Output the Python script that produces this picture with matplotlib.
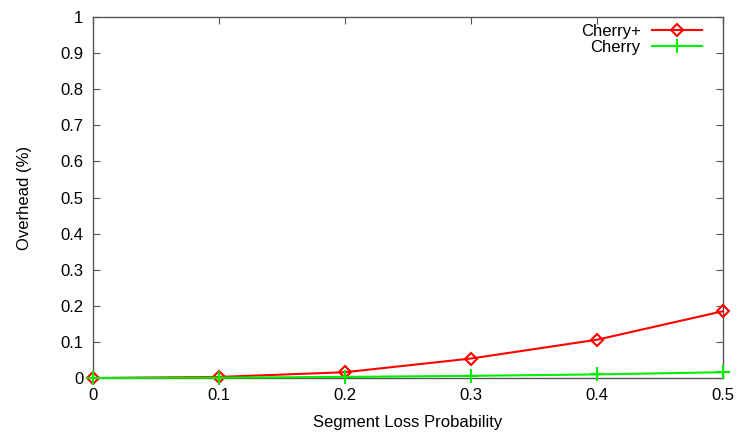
import matplotlib.pyplot as plt

plt.rcParams["font.family"] = ["Liberation Sans", "DejaVu Sans"]

loss_prob = [0.0, 0.1, 0.2, 0.3, 0.4, 0.5]
cherry_plus = [0.0, 0.003, 0.016, 0.054, 0.106, 0.185]
cherry = [0.0, 0.001, 0.003, 0.006, 0.010, 0.016]

x_ticks = [0, 0.1, 0.2, 0.3, 0.4, 0.5]
x_labels = ["0", "0.1", "0.2", "0.3", "0.4", "0.5"]
y_ticks = [0, 0.1, 0.2, 0.3, 0.4, 0.5, 0.6, 0.7, 0.8, 0.9, 1]
y_labels = ["0", "0.1", "0.2", "0.3", "0.4", "0.5", "0.6", "0.7", "0.8", "0.9", "1"]

fig = plt.figure(figsize=(7.43, 4.33), dpi=100)
ax = fig.add_axes([0.1252, 0.127, 0.8478, 0.8337])

ax.plot(loss_prob, cherry_plus, color="#ff0000", lw=1.5, marker="D",
        markersize=6, markerfacecolor="none", markeredgewidth=1.5,
        label="Cherry+", clip_on=False, zorder=3)
ax.plot(loss_prob, cherry, color="#00ee00", lw=1.5, marker="+",
        markersize=10, markeredgewidth=1.5, label="Cherry",
        clip_on=False, zorder=3)

ax.set_xlim(0, 0.5)
ax.set_ylim(0, 1)
ax.set_xticks(x_ticks)
ax.set_xticklabels(x_labels)
ax.set_yticks(y_ticks)
ax.set_yticklabels(y_labels)
ax.tick_params(direction="in", length=5, width=0.8, color="#555555",
               top=True, right=True, labelsize=12, pad=7)

for side in ax.spines.values():
    side.set_color("#555555")
    side.set_linewidth(1.0)

ax.set_xlabel("Segment Loss Probability", fontsize=12, labelpad=9)
ax.set_ylabel("Overhead (%)", fontsize=12, labelpad=20)

ax.legend(loc="upper right", frameon=False, markerfirst=False, fontsize=12,
          handlelength=3.0, handletextpad=0.7, labelspacing=0.05,
          borderaxespad=0.0, bbox_to_anchor=(0.978, 1.0))

fig.savefig("out.png", dpi=100)
